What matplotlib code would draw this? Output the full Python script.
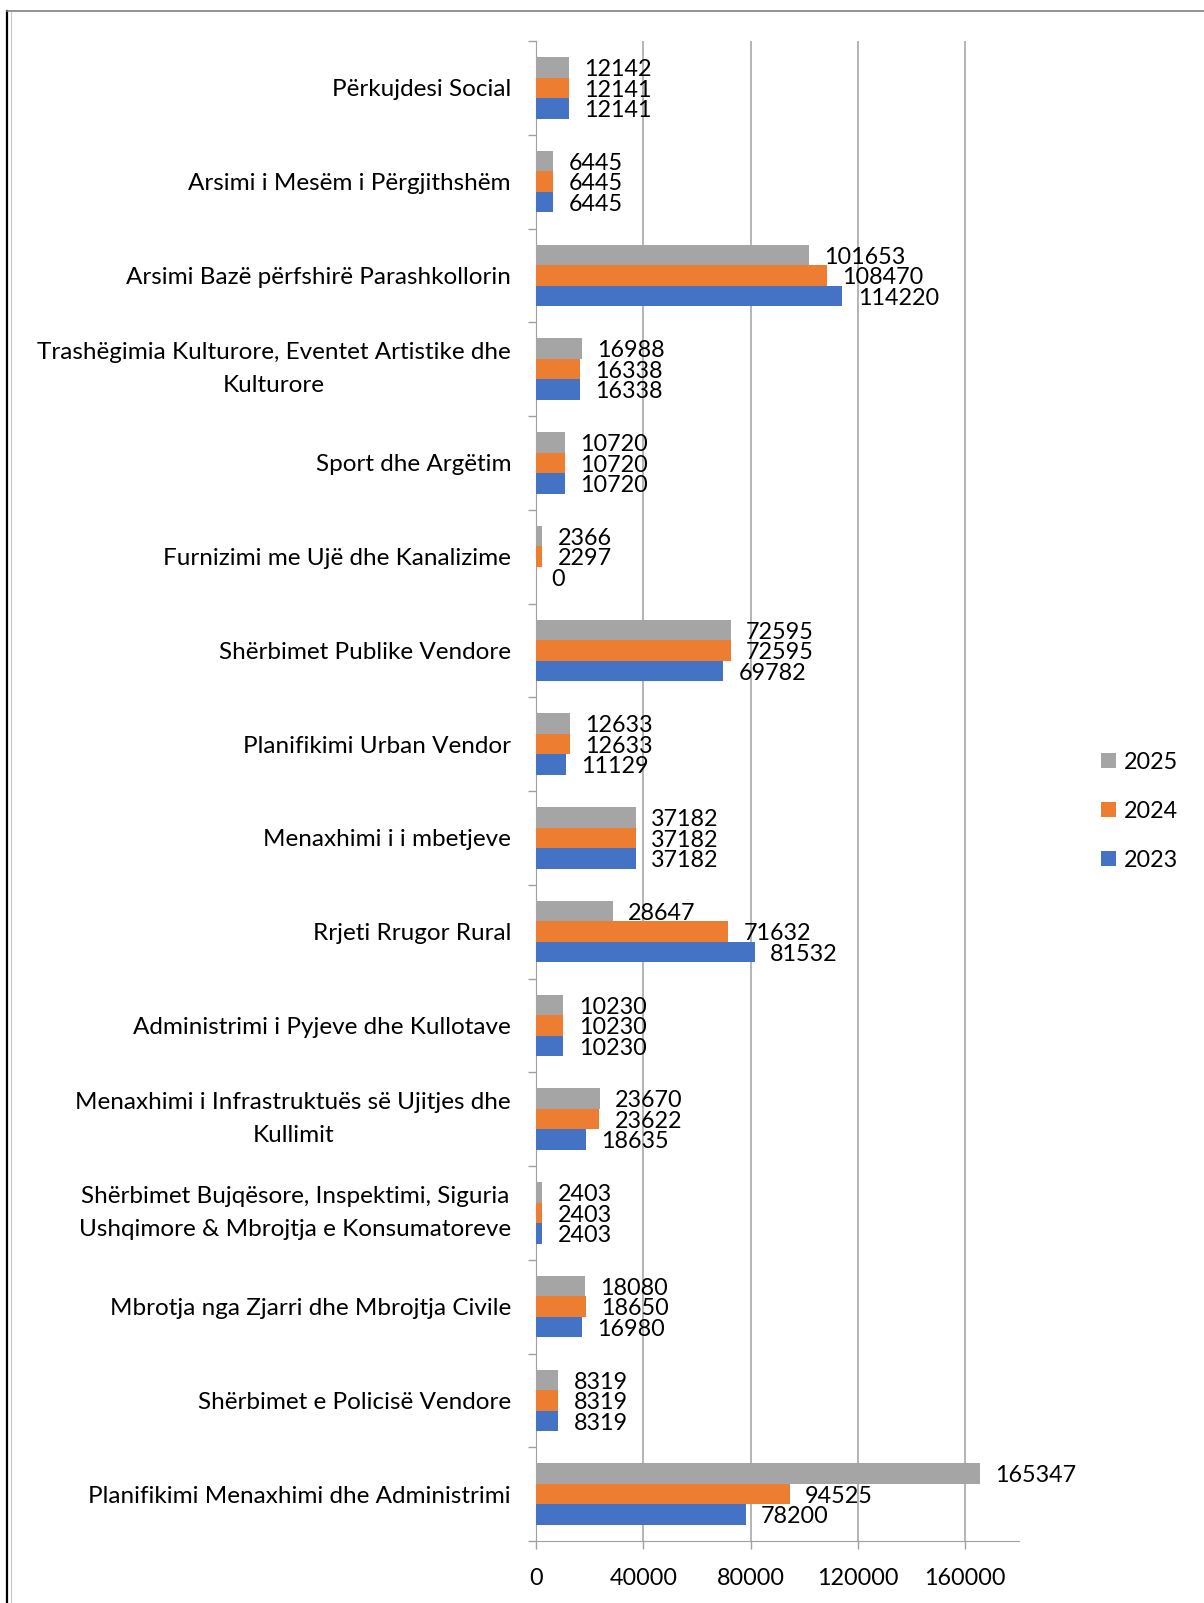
import numpy as np
import matplotlib
matplotlib.use("Agg")
from matplotlib import pyplot as plt
from matplotlib.lines import Line2D
from matplotlib.patches import Patch

plt.rcParams["font.family"] = ["Lato", "DejaVu Sans"]

# Budget per program (top to bottom as shown in the chart).
categories = [
    "Përkujdesi Social",
    "Arsimi i Mesëm i Përgjithshëm",
    "Arsimi Bazë përfshirë Parashkollorin",
    "Trashëgimia Kulturore, Eventet Artistike dhe\nKulturore",
    "Sport dhe Argëtim",
    "Furnizimi me Ujë dhe Kanalizime",
    "Shërbimet Publike Vendore",
    "Planifikimi Urban Vendor",
    "Menaxhimi i i mbetjeve",
    "Rrjeti Rrugor Rural",
    "Administrimi i Pyjeve dhe Kullotave",
    "Menaxhimi i Infrastruktuës së Ujitjes dhe\nKullimit",
    "Shërbimet Bujqësore, Inspektimi, Siguria\nUshqimore & Mbrojtja e Konsumatoreve",
    "Mbrotja nga Zjarri dhe Mbrojtja Civile",
    "Shërbimet e Policisë Vendore",
    "Planifikimi Menaxhimi dhe Administrimi",
]
vals_2025 = [12142, 6445, 101653, 16988, 10720, 2366, 72595, 12633, 37182, 28647,
             10230, 23670, 2403, 18080, 8319, 165347]
vals_2024 = [12141, 6445, 108470, 16338, 10720, 2297, 72595, 12633, 37182, 71632,
             10230, 23622, 2403, 18650, 8319, 94525]
vals_2023 = [12141, 6445, 114220, 16338, 10720, 0, 69782, 11129, 37182, 81532,
             10230, 18635, 2403, 16980, 8319, 78200]
xticks = [0, 40000, 80000, 120000, 160000]

colors = {"2025": "#A5A5A5", "2024": "#ED7D31", "2023": "#4472C4"}
fs_cat = 17.5
fs_num = 16.8

fig = plt.figure(figsize=(12.04, 16.03), dpi=100)
ax = fig.add_axes([536 / 1204, 1 - 1541 / 1603, (1019 - 536) / 1204, (1541 - 41) / 1603])

y = np.arange(len(categories))
h = 0.218
series = [("2025", vals_2025, -h), ("2024", vals_2024, 0.0), ("2023", vals_2023, h)]
for name, vals, off in series:
    bars = ax.barh(y + off, vals, height=h, color=colors[name], zorder=3)
    for rect, v in zip(bars, vals):
        ax.annotate(str(v), (rect.get_width(), rect.get_y() + rect.get_height() / 2),
                    xytext=(11, -1.6), textcoords="offset points",
                    va="center", ha="left", fontsize=fs_num, color="black")

ax.set_xlim(0, 180000)
ax.set_ylim(len(categories) - 0.5, -0.5)
ax.set_xticks(xticks)
ax.set_xticklabels([str(t) for t in xticks], fontsize=fs_num)
ax.set_yticks(y)
ax.set_yticklabels(categories, fontsize=fs_cat, multialignment="center", linespacing=1.7)
for lab in ax.get_yticklabels():
    if "\n" in lab.get_text():
        lab.set_va("center")
ax.set_yticks(np.arange(-0.5, len(categories), 1.0), minor=True)
ax.tick_params(axis="y", which="major", length=0, pad=18)
ax.tick_params(axis="y", which="minor", length=6, color="#A0A0A0", width=1)
ax.tick_params(axis="x", which="major", length=6, color="#A0A0A0", width=1, pad=13.5)

ax.grid(axis="x", color="#A0A0A0", linewidth=1.1, zorder=0)
for side in ["top", "right"]:
    ax.spines[side].set_visible(False)
ax.spines["left"].set_color("#A0A0A0")
ax.spines["bottom"].set_color("#A0A0A0")

handles = [Patch(facecolor=colors[n]) for n in ["2025", "2024", "2023"]]
fig.legend(handles, ["2025", "2024", "2023"], loc="center left",
           bbox_to_anchor=(1080 / 1204, 1 - 811 / 1603), frameon=False,
           fontsize=fs_num, handlelength=0.65, handleheight=0.65,
           handletextpad=0.35, labelspacing=1.2)

# Frame lines around the picture
fig.add_artist(Line2D([7 / 1204, 7 / 1204], [0, 1 - 11 / 1603], color="black", lw=1.6))
fig.add_artist(Line2D([11 / 1204, 11 / 1204], [0, 1 - 12 / 1603], color="#C8C8C8", lw=0.8))
fig.add_artist(Line2D([7 / 1204, 1], [1 - 11 / 1603, 1 - 11 / 1603], color="#808080", lw=1.2))

fig.savefig("out.png", dpi=100)
